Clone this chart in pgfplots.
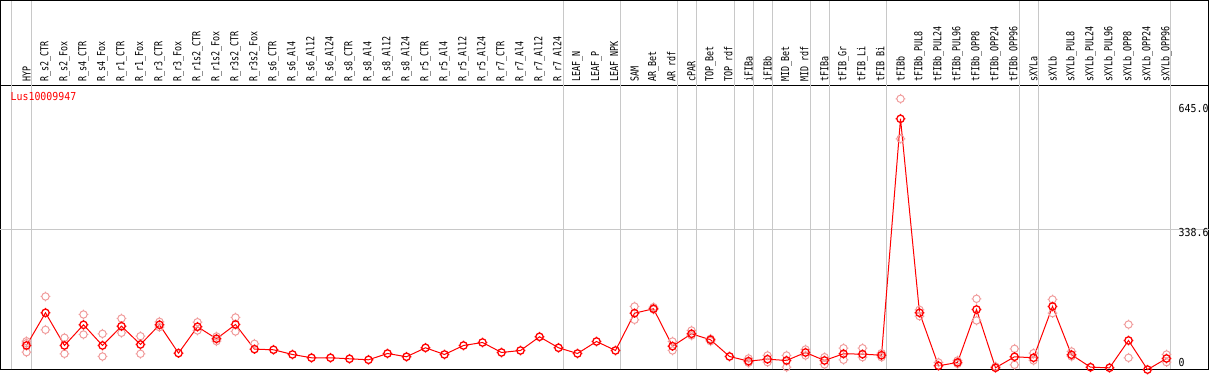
\documentclass[border=0pt]{standalone}
\usepackage{fontspec}
\usepackage{pgfplots}
\pgfplotsset{compat=1.18}
\newfontfamily\lab[FakeStretch=0.76]{DejaVu Sans Mono}
\newfontfamily\numf[FakeStretch=0.9]{DejaVu Sans Mono}
\definecolor{rep}{RGB}{240,155,155}
\definecolor{gridg}{RGB}{200,200,200}
\pgfdeclareplotmark{tick o}{%
  \pgfpathcircle{\pgfpointorigin}{\pgfplotmarksize}%
  \pgfpathmoveto{\pgfpoint{0pt}{\pgfplotmarksize}}\pgfpathlineto{\pgfpoint{0pt}{1.3\pgfplotmarksize}}%
  \pgfpathmoveto{\pgfpoint{0pt}{-\pgfplotmarksize}}\pgfpathlineto{\pgfpoint{0pt}{-1.3\pgfplotmarksize}}%
  \pgfpathmoveto{\pgfpoint{\pgfplotmarksize}{0pt}}\pgfpathlineto{\pgfpoint{1.3\pgfplotmarksize}{0pt}}%
  \pgfpathmoveto{\pgfpoint{-\pgfplotmarksize}{0pt}}\pgfpathlineto{\pgfpoint{-1.3\pgfplotmarksize}{0pt}}%
  \pgfusepathqstroke}
\begin{document}
\begin{tikzpicture}
\begin{axis}[
  scale only axis, width=1208pt, height=284pt,
  xmin=-1.368, xmax=62.21, ymin=-8.66, ymax=693.8,
  clip=false,
  axis line style={line width=1pt, black},
  xtick={0,...,60},
  xticklabels={HYP,R\_s2\_CTR,R\_s2\_Fox,R\_s4\_CTR,R\_s4\_Fox,R\_r1\_CTR,R\_r1\_Fox,R\_r3\_CTR,R\_r3\_Fox,R\_r1s2\_CTR,R\_r1s2\_Fox,R\_r3s2\_CTR,R\_r3s2\_Fox,R\_s6\_CTR,R\_s6\_Al4,R\_s6\_Al12,R\_s6\_Al24,R\_s8\_CTR,R\_s8\_Al4,R\_s8\_Al12,R\_s8\_Al24,R\_r5\_CTR,R\_r5\_Al4,R\_r5\_Al12,R\_r5\_Al24,R\_r7\_CTR,R\_r7\_Al4,R\_r7\_Al12,R\_r7\_Al24,LEAF\_N,LEAF\_P,LEAF\_NPK,SAM,AR\_Bet,AR\_rdf,cPAR,TOP\_Bet,TOP\_rdf,iFIBa,iFIBb,MID\_Bet,MID\_rdf,tFIBa,tFIB\_Gr,tFIB\_Li,tFIB\_Bi,tFIBb,tFIBb\_PUL8,tFIBb\_PUL24,tFIBb\_PUL96,tFIBb\_OPP8,tFIBb\_OPP24,tFIBb\_OPP96,sXYLa,sXYLb,sXYLb\_PUL8,sXYLb\_PUL24,sXYLb\_PUL96,sXYLb\_OPP8,sXYLb\_OPP24,sXYLb\_OPP96},
  xticklabel pos=upper,
  xticklabel style={rotate=90, anchor=west, font=\lab\fontsize{11}{11}\selectfont, inner sep=0pt, xshift=3.5pt},
  major tick length=0pt,
  ytick=\empty,
]
% grid lines
\draw[gridg, line width=1pt] (axis cs:-1.368,338.6) -- (axis cs:62.21,338.6);
\pgfplotsinvokeforeach{-0.79,0.24,28.24,31.24,34.24,35.24,37.24,38.24,39.24,41.24,42.24,45.24,52.24,53.24,60.21}{
  \draw[gridg, line width=1pt] (axis cs:#1,-8.66) -- (axis cs:#1,904);
}
\draw[line width=1pt] (axis cs:-1.368,693.8) -- (axis cs:-1.368,904) -- (axis cs:62.21,904) -- (axis cs:62.21,693.8);
% replicates
\addplot[only marks, mark=tick o, mark size=3.7pt, color=rep, line width=1pt] coordinates {
(0,61.3)(0,56.4)(0,34.1)
(1,171.9)(1,89.5)
(2,69.8)(2,30.2)
(3,127.4)(3,77.9)
(4,79.6)(4,23.5)
(5,117.5)(5,82.1)
(6,73.7)(6,30.2)
(7,109.3)(7,96.0)
(9,108.3)(9,87.8)
(10,73.0)(10,61.3)
(11,120.0)(11,85.3)
(12,54.9)
(32,147.2)(32,114.3)
(33,145.4)(33,139.7)
(34,60.6)(34,38.3)
(35,87.8)(35,75.4)
(36,67.3)(36,61.3)
(38,18.6)(38,7.9)
(39,26.0)(39,9.4)
(40,26.0)(40,-3.0)
(41,40.8)(41,26.0)
(42,21.8)(42,3.7)
(43,44.0)(43,15.3)
(44,44.0)(44,21.8)
(45,31.7)(45,21.8)
(46,660.9)(46,562.0)
(47,139.0)(47,123.2)
(48,8.7)
(49,13.6)(49,5.4)
(50,166.2)(50,112.5)
(51,-1.2)
(52,42.5)(52,3.0)
(53,31.7)(53,13.6)
(54,164.5)(54,130.6)
(55,35.9)(55,23.5)
(58,102.6)(58,20.3)
(60,28.4)(60,9.4)
};
% means
\addplot[red, line width=1pt, mark=tick o, mark size=3.7pt, mark options={line width=1.3pt}] coordinates {
(0,50.7)(1,131.6)(2,50.7)(3,101.9)(4,50.7)(5,98.4)(6,53.2)(7,101.9)(8,31.7)(9,97.0)
(10,67.3)(11,102.6)(12,41.6)(13,40.1)(14,28.4)(15,20.3)(16,20.3)(17,17.8)(18,15.3)(19,30.9)
(20,22.8)(21,45.0)(22,28.4)(23,50.7)(24,58.1)(25,33.4)(26,38.3)(27,72.2)(28,45.0)(29,30.9)
(30,60.6)(31,38.3)(32,130.6)(33,141.5)(34,49.0)(35,79.6)(36,64.8)(37,23.5)(38,11.9)(39,16.8)
(40,13.6)(41,33.4)(42,13.6)(43,30.2)(44,29.2)(45,26.7)(46,611.4)(47,131.6)(48,0.5)(49,8.7)
(50,139.7)(51,-4.5)(52,22.8)(53,20.3)(54,147.2)(55,27.7)(56,-3.0)(57,-4.5)(58,63.1)(59,-9.0)
(60,18.6)
};
% labels
\node[anchor=north west, inner sep=0pt, text=red, font=\numf\fontsize{11}{11}\selectfont] at (axis cs:-0.842,676.5) {Lus10009947};
\node[anchor=north west, inner sep=0pt, font=\numf\fontsize{11}{11}\selectfont] at (axis cs:60.63,646.8) {645.0};
\node[anchor=north west, inner sep=0pt, font=\numf\fontsize{11}{11}\selectfont] at (axis cs:60.63,340.8) {338.6};
\node[anchor=north west, inner sep=0pt, font=\numf\fontsize{11}{11}\selectfont] at (axis cs:60.63,19.5) {0};
\end{axis}
\end{tikzpicture}
\end{document}
